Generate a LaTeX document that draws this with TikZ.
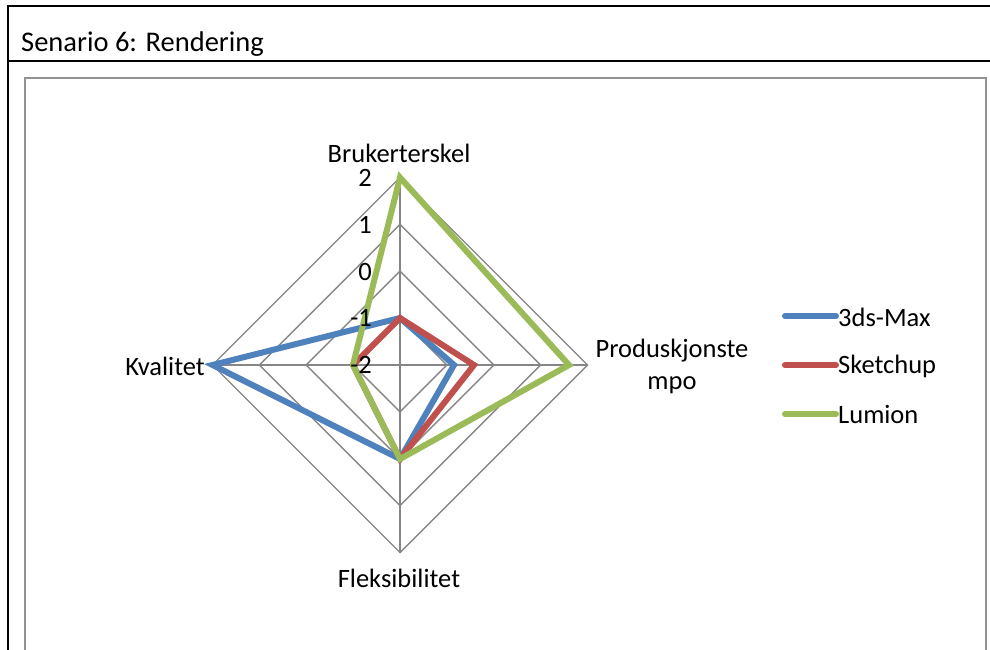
\documentclass[tikz,border=0pt]{standalone}
\usepackage{fontspec}
\setmainfont{Carlito}
\definecolor{sblue}{HTML}{4F81BD}
\definecolor{sred}{HTML}{C0504D}
\definecolor{sgreen}{HTML}{9BBB59}
\definecolor{gridgray}{HTML}{868686}
\begin{document}
\begin{tikzpicture}[x=1pt,y=-1pt,
  lbl/.style={font=\fontsize{26.5}{32}\selectfont, inner sep=0pt},
  series/.style={line width=6pt, line join=miter},
  gridline/.style={draw=gridgray, line width=1.4pt},
  legline/.style={line width=6pt, line cap=round}]
\useasboundingbox (0,0) rectangle (990,650);
\fill[white] (0,0) rectangle (990,650);
% table borders
\draw[line width=2pt] (990,6.5) -- (7.5,6.5) -- (7.5,650);
\draw[line width=2pt] (7.5,61) -- (990,61);
\node[inner sep=0pt, font=\fontsize{28.5}{34}\selectfont, anchor=base west] (title) at (21,52) {Senario 6: Rendering};
% chart frame
\draw[draw=gridgray!90, line width=1.6pt] (25,655) -- (25,78) -- (986,78) -- (986,655);
% radar grid
\coordinate (c) at (400,365);
\foreach \r in {46.9,93.8,140.6,187.5}{
  \draw[gridline] (400,365-\r) -- (400+\r,365) -- (400,365+\r) -- (400-\r,365) -- cycle;
}
\coordinate (ptop) at (400,177.5);
\coordinate (pright) at (587.5,365);
\coordinate (pbot) at (400,552.5);
\coordinate (pleft) at (212.5,365);
\draw[gridline] (c) -- (ptop);
\draw[gridline] (c) -- (pright);
\draw[gridline] (c) -- (pbot);
\draw[gridline] (c) -- (pleft);
% series
\draw[series, sblue] (400,318) -- (454,365) -- (400,459) -- (212.5,365) -- cycle;
\draw[series, sred] (400,318) -- (474,365) -- (400,459) -- (353,365) -- cycle;
\draw[series, sgreen] (400,177.5) -- (569,365) -- (400,459) -- (353,365) -- cycle;
% tick labels (on top of series)
\node[lbl, anchor=east] (t2) at (372,178) {2};
\node[lbl, anchor=east] (t1) at (372,225) {1};
\node[lbl, anchor=east] (t0) at (372,272) {0};
\node[lbl, anchor=east] (tm1) at (372,318) {-1};
\node[lbl, anchor=east] (tm2) at (372,365) {-2};
% axis labels
\node[lbl, anchor=south] (ab) at (399,163) {Brukerterskel};
\node[lbl, align=center] (ap) at (672,366) {Produskjonste\\mpo};
\node[lbl, anchor=east] (ak) at (205,366) {Kvalitet};
\node[lbl] (af) at (399,578) {Fleksibilitet};
% legend
\draw[legline, sblue] (785,316) -- (836,316);
\draw[legline, sred] (785,365) -- (836,365);
\draw[legline, sgreen] (785,414) -- (836,414);
\node[lbl, anchor=west] (l1) at (838,317) {3ds-Max};
\node[lbl, anchor=west] (l2) at (838,366) {Sketchup};
\node[lbl, anchor=west] (l3) at (838,414) {Lumion};
\end{tikzpicture}
\end{document}
